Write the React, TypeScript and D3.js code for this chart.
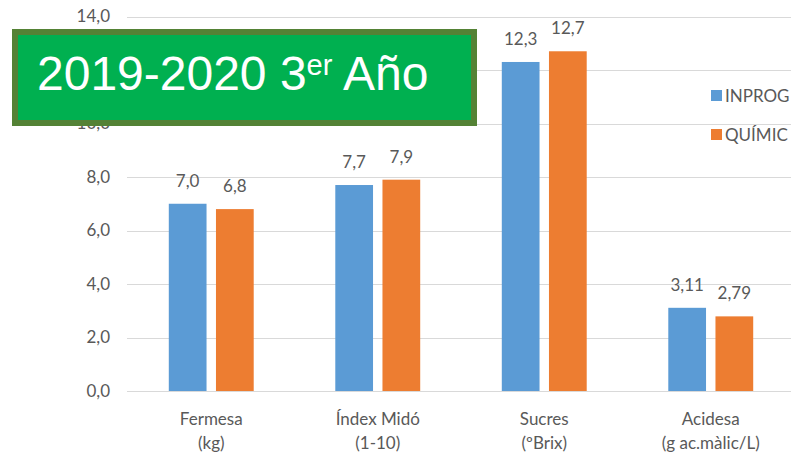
import React, { useEffect, useRef } from 'react';
import * as d3 from 'd3';

// data
const categories = ['Fermesa|(kg)', 'Índex Midó|(1-10)', 'Sucres|(ºBrix)', 'Acidesa|(g ac.màlic/L)'];
const seriesNames = ['INPROG', 'QUÍMIC'];
const inprogValues = [7.0, 7.7, 12.3, 3.11];
const quimicValues = [6.8, 7.9, 12.7, 2.79];
const valueLabels = [['7,0', '7,7', '12,3', '3,11'], ['6,8', '7,9', '12,7', '2,79']];
const yTicks = [0, 2, 4, 6, 8, 10, 12, 14];

const COLORS = ['#5B9BD5', '#ED7D31'];
const TEXT_COLOR = '#595959';
const FONT = 'Lato, "Open Sans", sans-serif';

const App = () => {
  const svgRef = useRef<SVGSVGElement | null>(null);
  const width = 794;
  const height = 457;

  useEffect(() => {
    if (!svgRef.current) return;
    const svg = d3.select(svgRef.current);
    svg.selectAll('*').remove();

    const left = 128;
    const right = 794;
    const y = d3.scaleLinear().domain([0, 14]).range([391, 16.5]);
    const x0 = d3.scaleBand<string>().domain(categories).range([left, right]).paddingInner(0.49).paddingOuter(0.245);
    const x1 = d3.scaleBand<string>().domain(seriesNames).range([0, x0.bandwidth()]).paddingInner(0.2);

    // gridlines + y tick labels
    yTicks.forEach(t => {
      svg.append('line')
        .attr('x1', 127).attr('x2', 791)
        .attr('y1', Math.round(y(t)) + 0.5).attr('y2', Math.round(y(t)) + 0.5)
        .attr('stroke', '#d9d9d9').attr('stroke-width', 1);
      svg.append('text')
        .attr('x', 110).attr('y', y(t)).attr('dy', '0.35em')
        .attr('text-anchor', 'end')
        .attr('fill', TEXT_COLOR).attr('font-size', 17).attr('font-family', FONT)
        .text(d3.format('.1f')(t).replace('.', ','));
    });

    // bars
    const series = [inprogValues, quimicValues];
    series.forEach((vals, si) => {
      vals.forEach((v, ci) => {
        const cat = categories[ci];
        const bx = (x0(cat) ?? 0) + (x1(seriesNames[si]) ?? 0);
        svg.append('rect')
          .attr('x', bx).attr('y', y(v))
          .attr('width', x1.bandwidth()).attr('height', y(0) - y(v))
          .attr('fill', COLORS[si]);
        svg.append('text')
          .attr('x', bx + x1.bandwidth() / 2).attr('y', y(v) - 17)
          .attr('text-anchor', 'middle')
          .attr('fill', TEXT_COLOR).attr('font-size', 17).attr('font-family', FONT)
          .text(valueLabels[si][ci]);
      });
    });

    // category labels (two lines)
    categories.forEach(cat => {
      const cx = (x0(cat) ?? 0) + x0.bandwidth() / 2;
      cat.split('|').forEach((line, i) => {
        svg.append('text')
          .attr('x', cx).attr('y', 425 + i * 24)
          .attr('text-anchor', 'middle')
          .attr('fill', TEXT_COLOR).attr('font-size', 17).attr('font-family', FONT)
          .text(line);
      });
    });

    // legend
    seriesNames.forEach((name, i) => {
      svg.append('rect')
        .attr('x', 711).attr('y', 90 + i * 39)
        .attr('width', 11).attr('height', 11)
        .attr('fill', COLORS[i]);
      svg.append('text')
        .attr('x', 725).attr('y', 102 + i * 39)
        .attr('fill', TEXT_COLOR).attr('font-size', 17).attr('font-family', FONT)
        .text(name);
    });

    // title box
    svg.append('rect')
      .attr('x', 15).attr('y', 32)
      .attr('width', 459).attr('height', 91)
      .attr('fill', '#00B050')
      .attr('stroke', '#548235').attr('stroke-width', 6);
    const title = svg.append('text')
      .attr('x', 37).attr('y', 90)
      .attr('fill', '#fff').attr('font-size', 48)
      .attr('font-family', '"Liberation Sans", Arial, sans-serif');
    title.append('tspan').text('2019-2020 3');
    title.append('tspan').attr('font-size', 29).attr('dy', -15).text('er');
    title.append('tspan').attr('dy', 15).text(' Año');
  }, []);

  return (
    <svg ref={svgRef} width={width} height={height}
      style={{ position: 'absolute', left: 0, top: 0, background: '#fff', display: 'block' }} />
  );
};

export default App;
